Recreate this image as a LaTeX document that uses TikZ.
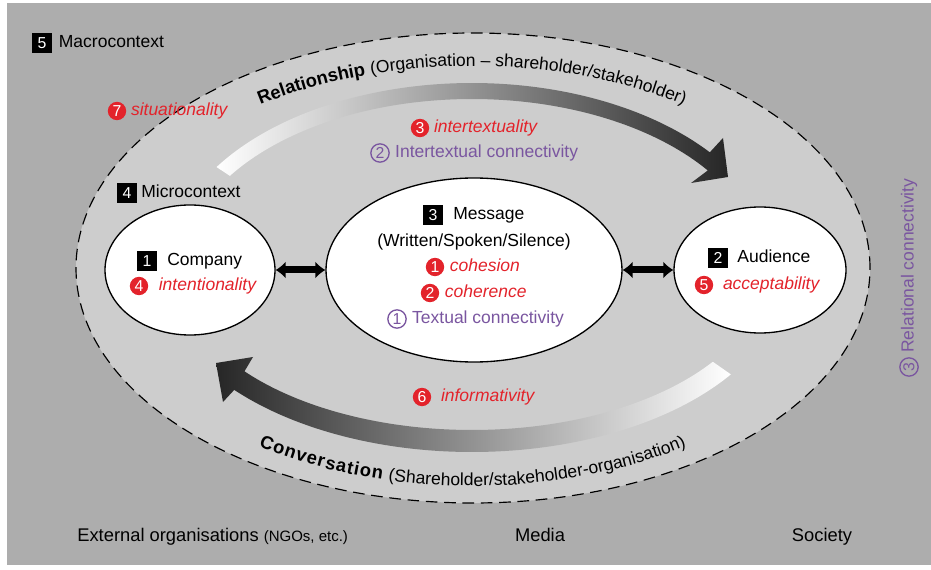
\documentclass[tikz,border=0pt]{standalone}
\usepackage{fontspec}
\setmainfont{Liberation Sans}
\usepackage{tikz}
\usetikzlibrary{shapes.geometric, arrows.meta, positioning, decorations.text}
\definecolor{bgdark}{HTML}{ADADAD}
\definecolor{bglight}{HTML}{CDCDCD}
\definecolor{ctxred}{HTML}{E3232B}
\definecolor{ctxpurple}{HTML}{7A56A0}
\tikzset{
    partybox/.style={ellipse, draw=black, line width=0.8pt, fill=white, inner sep=0pt},
    blackno/.style={rectangle, fill=black, text=white, minimum size=11.5pt, inner sep=0pt, font=\fontsize{9.5}{9.5}\selectfont},
    redno/.style={circle, fill=ctxred, text=white, minimum size=11pt, inner sep=0pt, font=\fontsize{9.5}{9.5}\selectfont},
    purpleno/.style={circle, draw=ctxpurple, line width=0.8pt, text=ctxpurple, minimum size=11pt, inner sep=0pt, font=\fontsize{9.5}{9.5}\selectfont},
    lbl/.style={inner xsep=0pt, inner ysep=1pt, text height=7.6pt, text depth=2.2pt, font=\fontsize{10.5}{12}\selectfont},
    redlbl/.style={lbl, text=ctxred, font=\fontsize{10.5}{12}\selectfont\itshape},
    purplelbl/.style={lbl, text=ctxpurple},
    dblarrow/.style={{Latex[length=6pt,width=10.5pt]}-{Latex[length=6pt,width=10.5pt]}, line width=4.2pt, black},
}

\begin{document}
\begin{tikzpicture}[x=0.6pt, y=0.6pt,
  % sweeping flow arcs (white to dark)
  flowtop/.style={left color=white, right color=black!85},
  flowbot/.style={left color=black!85, right color=white},
  ringtext/.style={decorate, decoration={text along path, text align=center, text={#1}}}
]
\useasboundingbox (0,0) rectangle (931,569);
\fill[white] (0,0) rectangle (931,569);
% Macrocontext backdrop
\fill[bgdark] (7,4) rectangle (931,566);
\node[ellipse, draw=black, fill=bglight, dash pattern=on 7pt off 4pt, line width=0.7pt, minimum width=476.4pt, minimum height=282pt, inner sep=0pt] (microctx) at (473,301) {};
\coordinate (hub) at (472,299);

% Relationship arc (top, left to right)
\shade[flowtop] ([shift={(hub)}]146.6:306 and 187) arc[start angle=146.6, end angle=39, x radius=306, y radius=187]
  -- (723,431) -- (728,392) -- (691,386)
  -- ([shift={(hub)}]35.6:290 and 171) arc[start angle=35.6, end angle=146.6, x radius=290, y radius=171] -- cycle;
\path[ringtext={|\fontsize{11}{13}\selectfont\bfseries|Relationship |\fontsize{10.5}{12}\selectfont\mdseries|(Organisation – shareholder/stakeholder)}]
  ([shift={(hub)}]140:360 and 204) arc[start angle=140, end angle=40, x radius=360, y radius=204];

% Conversation arc (bottom, right to left)
\shade[flowbot] ([shift={(hub)}]-35:316 and 182) arc[start angle=-35, end angle=-138.8, x radius=316, y radius=182]
  -- (223,167) -- (216,206) -- (253,212)
  -- ([shift={(hub)}]-140.7:294 and 160) arc[start angle=-140.7, end angle=-35, x radius=294, y radius=160] -- cycle;
\path[ringtext={|\fontsize{11}{13}\selectfont\bfseries\kern0.6pt|Conversation |\fontsize{10.5}{12}\selectfont\mdseries|(Shareholder/stakeholder-organisation)}]
  ([shift={(hub)}]215:370 and 216) arc[start angle=215, end angle=325, x radius=370, y radius=216];

% Parties
\node[partybox, minimum width=102pt, minimum height=78pt] (company) at (190,299) {};
\node[partybox, minimum width=177.6pt, minimum height=110.4pt] (message) at (474,299) {};
\node[partybox, minimum width=103.2pt, minimum height=75.6pt] (audience) at (760,299) {};
\draw[dblarrow] (company.east) -- (message.west);
\draw[dblarrow] (message.east) -- (audience.west);

% Context tags
\node[blackno] (n5) at (42,526) {5};
\node[lbl, right=4pt of n5] (macrolbl) {Macrocontext};
\node[blackno] (n4) at (127,376) {4};
\node[lbl, right=2.5pt of n4] (microlbl) {Microcontext};

% Situationality, intertextuality
\node[redno] (r7) at (117,458) {7};
\node[redlbl, right=2.5pt of r7] (situ) {situationality};
\node[redno] (r3) at (420,441) {3};
\node[redlbl, right=2.5pt of r3] (intertext) {intertextuality};
\node[purpleno] (p2) at (380,416) {2};
\node[purplelbl, right=3pt of p2] (interconn) {Intertextual connectivity};

% Company
\node[blackno] (n1) at (147,308) {1};
\node[lbl, right=6pt of n1] (complbl) {Company};
\node[redno] (r4) at (139,283) {4};
\node[redlbl, right=6pt of r4] (intent) {intentionality};

% Message
\node[blackno] (n3) at (433,354) {3};
\node[lbl, right=6pt of n3] (msglbl) {Message};
\node[lbl] (modes) at (474,327) {(Written/Spoken/Silence)};
\node[redno] (r1) at (435,302) {1};
\node[redlbl, right=3pt of r1] (cohes) {cohesion};
\node[redno] (r2) at (430,276) {2};
\node[redlbl, right=3pt of r2] (coher) {coherence};
\node[purpleno] (p1) at (397,250) {1};
\node[purplelbl, right=3pt of p1] (textconn) {Textual connectivity};

% Audience
\node[blackno] (n2) at (718,311) {2};
\node[lbl, right=5.5pt of n2] (audlbl) {Audience};
\node[redno] (r5) at (704,284) {5};
\node[redlbl, right=5.5pt of r5] (accept) {acceptability};

% Informativity
\node[redno] (r6) at (422,172) {6};
\node[redlbl, right=5.5pt of r6] (inform) {informativity};

% Relational connectivity (right margin)
\node[purpleno, rotate=90] (p3) at (909,202) {3};
\node[purplelbl, rotate=90, anchor=west] (relconn) at (909,216) {Relational connectivity};

% Wider environment
\node[lbl, anchor=west, font=\fontsize{11}{13}\selectfont] (extorg) at (77,32) {External organisations {\fontsize{9}{10}\selectfont(NGOs, etc.)}};
\node[lbl, font=\fontsize{11}{13}\selectfont] (media) at (540,32) {Media};
\node[lbl, font=\fontsize{11}{13}\selectfont] (society) at (822,32) {Society};
\end{tikzpicture}
\end{document}
